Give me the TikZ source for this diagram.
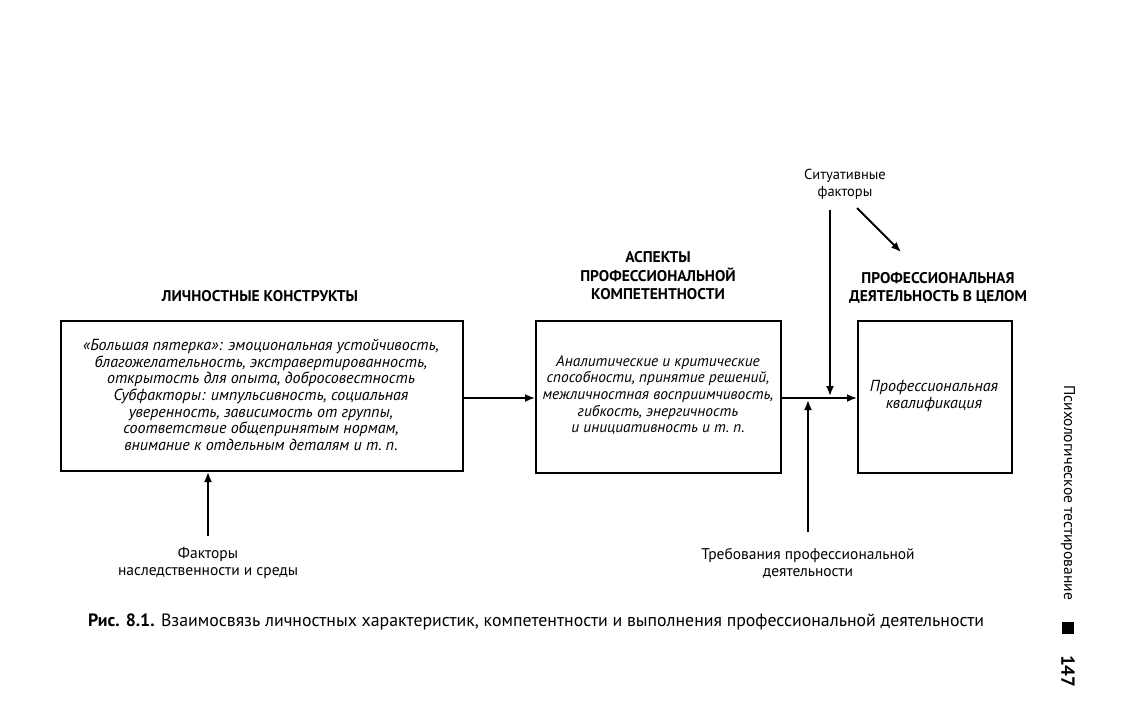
\documentclass[tikz,border=0pt]{standalone}
\usepackage{fontspec}
\setmainfont{PT Sans}
\usetikzlibrary{arrows.meta}
\begin{document}
\begin{tikzpicture}[x=1pt,y=-1pt,
  boxst/.style={draw,line width=2.2pt,inner sep=0pt},
  arr/.style={line width=1.8pt,-{Latex[length=10pt,width=8pt]}},
  head/.style={font=\fontsize{15.5}{18.5}\selectfont\bfseries,align=center,inner sep=0pt},
  body/.style={align=center,inner sep=0pt},
  lab/.style={font=\fontsize{15.5}{17}\selectfont,align=center,inner sep=0pt}]
\useasboundingbox (0,0) rectangle (1126,711);
% boxes
\node[boxst,minimum width=402pt,minimum height=150pt,anchor=north west] (b1) at (60,320) {};
\node[boxst,minimum width=245pt,minimum height=152pt,anchor=north west] (b2) at (535,320) {};
\node[boxst,minimum width=154pt,minimum height=152pt,anchor=north west] (b3) at (857,320) {};
% box texts
\node[body,font=\fontsize{16}{16.6}\selectfont\itshape] (t1) at (261,395) {«Большая пятерка»: эмоциональная устойчивость,\\благожелательность, экстравертированность,\\открытость для опыта, добросовестность\\Субфакторы: импульсивность, социальная\\уверенность, зависимость от группы,\\соответствие общепринятым нормам,\\внимание к отдельным деталям и т.~п.};
\node[body,font=\fontsize{15.4}{16.6}\selectfont\itshape] (t2) at (658,395) {Аналитические и критические\\способности, принятие решений,\\межличностная восприимчивость,\\гибкость, энергичность\\и инициативность и т.~п.};
\node[body,font=\fontsize{16}{17}\selectfont\itshape] (t3) at (934,396) {Профессиональная\\квалификация};
% headings
\node[head] (h1) at (260,296) {ЛИЧНОСТНЫЕ КОНСТРУКТЫ};
\node[head] (h2) at (658,276) {АСПЕКТЫ\\ПРОФЕССИОНАЛЬНОЙ\\КОМПЕТЕНТНОСТИ};
\node[head] (h3) at (938,288) {ПРОФЕССИОНАЛЬНАЯ\\ДЕЯТЕЛЬНОСТЬ В ЦЕЛОМ};
% outside labels
\node[lab,font=\fontsize{14.5}{17}\selectfont] (sf) at (845,184) {Ситуативные\\факторы};
\node[lab] (fn) at (208,563) {Факторы\\наследственности и среды};
\node[lab] (tr) at (808,563) {Требования профессиональной\\деятельности};
% connectors
\draw[arr] (b1.east |- 0,398) -- (b2.west |- 0,398);
\draw[arr] (b2.east |- 0,398) -- (b3.west |- 0,398);
\coordinate (j1) at (830,396);
\coordinate (j2) at (808,400);
\coordinate (s1) at (830,210);
\draw[arr] (s1) -- (j1);
\coordinate (d1) at (857,208);
\coordinate (d2) at (901,252);
\draw[arr] (d1) -- (d2);
\coordinate (r1) at (808,532);
\draw[arr] (r1) -- (j2);
\coordinate (f1) at (208,536);
\draw[arr] (f1) -- (208,472);
% caption
\node[anchor=west,inner sep=0pt,font=\fontsize{17.8}{20}\selectfont] (cap) at (88,622) {\textbf{Рис. 8.1.} Взаимосвязь личностных характеристик, компетентности и выполнения профессиональной деятельности};
% running head
\node[rotate=-90,anchor=west,inner sep=0pt,font=\fontsize{15.6}{16}\selectfont] (rh) at (1068,385) {Психологическое тестирование};
\fill (1062,622) rectangle (1074,634);
\node[rotate=-90,anchor=west,inner sep=0pt,font=\fontsize{19}{20}\selectfont\bfseries] (pg) at (1068,655) {147};
\end{tikzpicture}
\end{document}
